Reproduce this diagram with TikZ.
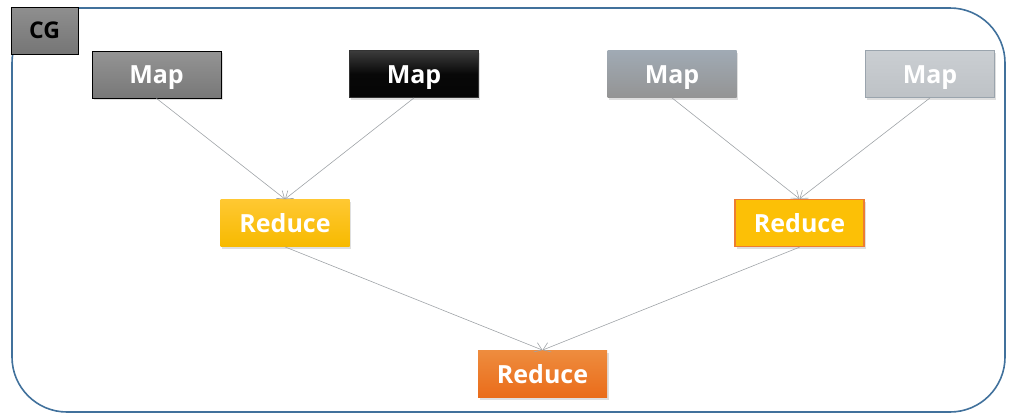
\documentclass[tikz,border=0pt]{standalone}
\usepackage{fontspec}
\setmainfont{Open Sans}
\usetikzlibrary{arrows.meta,shadows}
\definecolor{frameblue}{HTML}{41719C}
\definecolor{linegray}{HTML}{A0A4A8}
\begin{document}
\begin{tikzpicture}[x=1pt,y=-1pt,
  box/.style={minimum width=129pt,minimum height=47pt,inner sep=0pt,
    text height=18pt,text depth=0pt,
    font=\fontsize{25}{28}\selectfont\bfseries,text=white,line width=0.8pt,
    drop shadow={opacity=0.25,shadow xshift=1.5pt,shadow yshift=-2pt}},
  conn/.style={draw=linegray,line width=0.6pt,-{Straight Barb[length=7pt,width=10pt]}}
]
\useasboundingbox (0,0) rectangle (1017,418);
\draw[frameblue,line width=1.6pt,rounded corners=55pt] (12,8) rectangle (1005,412);
\node[draw=black,top color=gray!88,bottom color=gray!92!black,minimum width=67pt,minimum height=47pt,inner sep=0pt,
  font=\fontsize{23}{26}\selectfont\bfseries,line width=0.8pt] (cg) at (44.5,30.5) {CG};
\node[box,draw=black,top color={rgb,255:red,148;green,148;blue,148},bottom color={rgb,255:red,120;green,120;blue,120}] (m1) at (156.5,74.5) {Map};
\node[box,draw=black!80,top color={rgb,255:red,60;green,60;blue,60},bottom color={rgb,255:red,5;green,5;blue,5},middle color={rgb,255:red,8;green,8;blue,8}] (m2) at (414,74) {Map};
\node[box,draw=none,top color={rgb,255:red,160;green,170;blue,180},bottom color={rgb,255:red,148;green,148;blue,148}] (m3) at (672,74) {Map};
\node[box,draw={rgb,255:red,154;green,164;blue,173},top color={rgb,255:red,202;green,206;blue,210},bottom color={rgb,255:red,190;green,194;blue,198}] (m4) at (930,74) {Map};
\node[box,draw=none,top color={rgb,255:red,255;green,200;blue,50},bottom color={rgb,255:red,247;green,186;blue,0}] (r1) at (285,223) {Reduce};
\node[box,draw={rgb,255:red,237;green,125;blue,49},line width=1.4pt,fill={rgb,255:red,252;green,192;blue,6},drop shadow={opacity=0}] (r2) at (799.5,223) {Reduce};
\node[box,draw=none,top color={rgb,255:red,238;green,140;blue,62},bottom color={rgb,255:red,234;green,108;blue,26}] (r3) at (542.5,374) {Reduce};
\draw[conn] (m1.south) -- (r1.north);
\draw[conn] (m2.south) -- (r1.north);
\draw[conn] (m3.south) -- (r2.north);
\draw[conn] (m4.south) -- (r2.north);
\draw[conn] (r1.south) -- (r3.north);
\draw[conn] (r2.south) -- (r3.north);
\end{tikzpicture}
\end{document}
